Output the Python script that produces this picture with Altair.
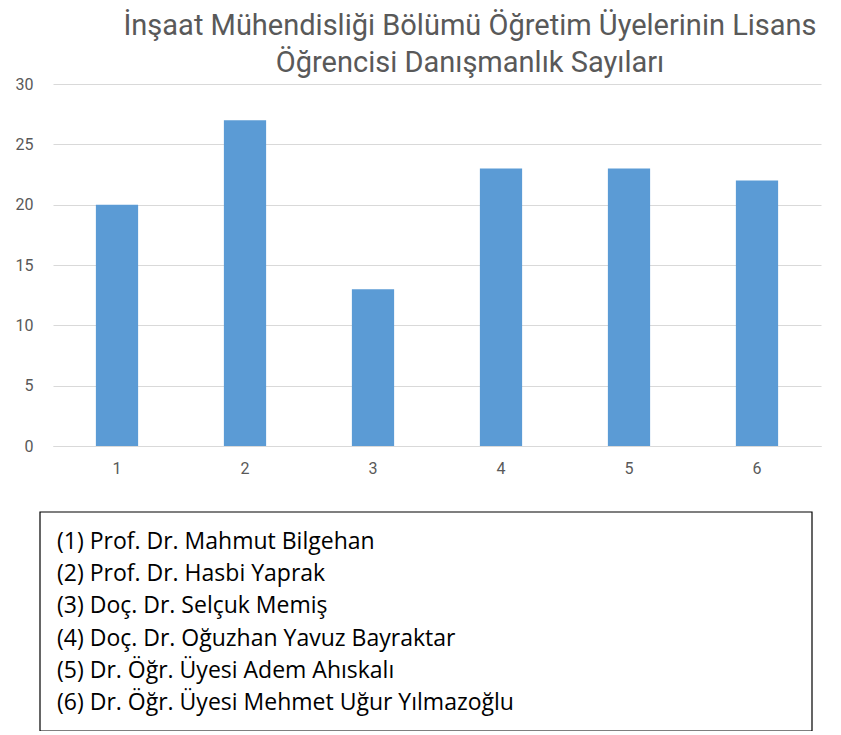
import altair as alt
import pandas as pd

categories = ["1", "2", "3", "4", "5", "6"]
values = [20, 27, 13, 23, 23, 22]
legend_lines = [
    "(1) Prof. Dr. Mahmut Bilgehan",
    "(2) Prof. Dr. Hasbi Yaprak",
    "(3) Doç. Dr. Selçuk Memiş",
    "(4) Doç. Dr. Oğuzhan Yavuz Bayraktar",
    "(5) Dr. Öğr. Üyesi Adem Ahıskalı",
    "(6) Dr. Öğr. Üyesi Mehmet Uğur Yılmazoğlu",
]
title_lines = [
    "İnşaat Mühendisliği Bölümü Öğretim Üyelerinin Lisans",
    "Öğrencisi Danışmanlık Sayıları",
]

bars_df = pd.DataFrame({"cat": categories, "val": values})
legend_df = pd.DataFrame({"row": list(range(1, len(legend_lines) + 1)), "text": legend_lines})

W, H = 768, 362
font = "Roboto, sans-serif"

bars = alt.Chart(bars_df).mark_bar(color="#5b9bd5").encode(
    x=alt.X("cat:N", sort=categories, title=None,
            scale=alt.Scale(paddingInner=0.67, paddingOuter=0.335),
            axis=alt.Axis(labelAngle=0, ticks=False, labelPadding=14, labelFontSize=16,
                          labelColor="#595959", domainColor="#d9d9d9", labelFont=font)),
    y=alt.Y("val:Q", title=None,
            scale=alt.Scale(domain=[0, 30]),
            axis=alt.Axis(values=[0, 5, 10, 15, 20, 25, 30], ticks=False, domain=False,
                          labelPadding=20, labelFontSize=16, labelColor="#595959",
                          gridColor="#d9d9d9", labelFont=font)),
)

box = alt.Chart(legend_df).mark_rect(fill="white", stroke="black", strokeWidth=1.2).encode(
    x=alt.value(-13), x2=alt.value(759), y=alt.value(428), y2=alt.value(647)
).transform_filter(alt.datum.row == 1)

texts = alt.Chart(legend_df).mark_text(align="left", baseline="middle", fontSize=23,
                                       font="Open Sans, sans-serif", color="black").encode(
    x=alt.value(4),
    y=alt.Y("row:Q", axis=None, scale=alt.Scale(domain=[1, 6], range=[458, 619])),
    text="text:N",
)

chart = alt.layer(bars, box, texts).resolve_scale(y="independent").properties(
    width=W, height=H,
    autosize=alt.AutoSizeParams(type="none"),
    padding={"left": 45, "top": 76, "right": 12, "bottom": 285},
    title=alt.Title(title_lines, fontSize=29, font=font, fontWeight="normal",
                    color="#595959", lineHeight=37, offset=-2, dx=33, anchor="middle"),
).configure_view(stroke=None)

chart.save("out.html", embed_options={"renderer": "svg", "actions": False})
